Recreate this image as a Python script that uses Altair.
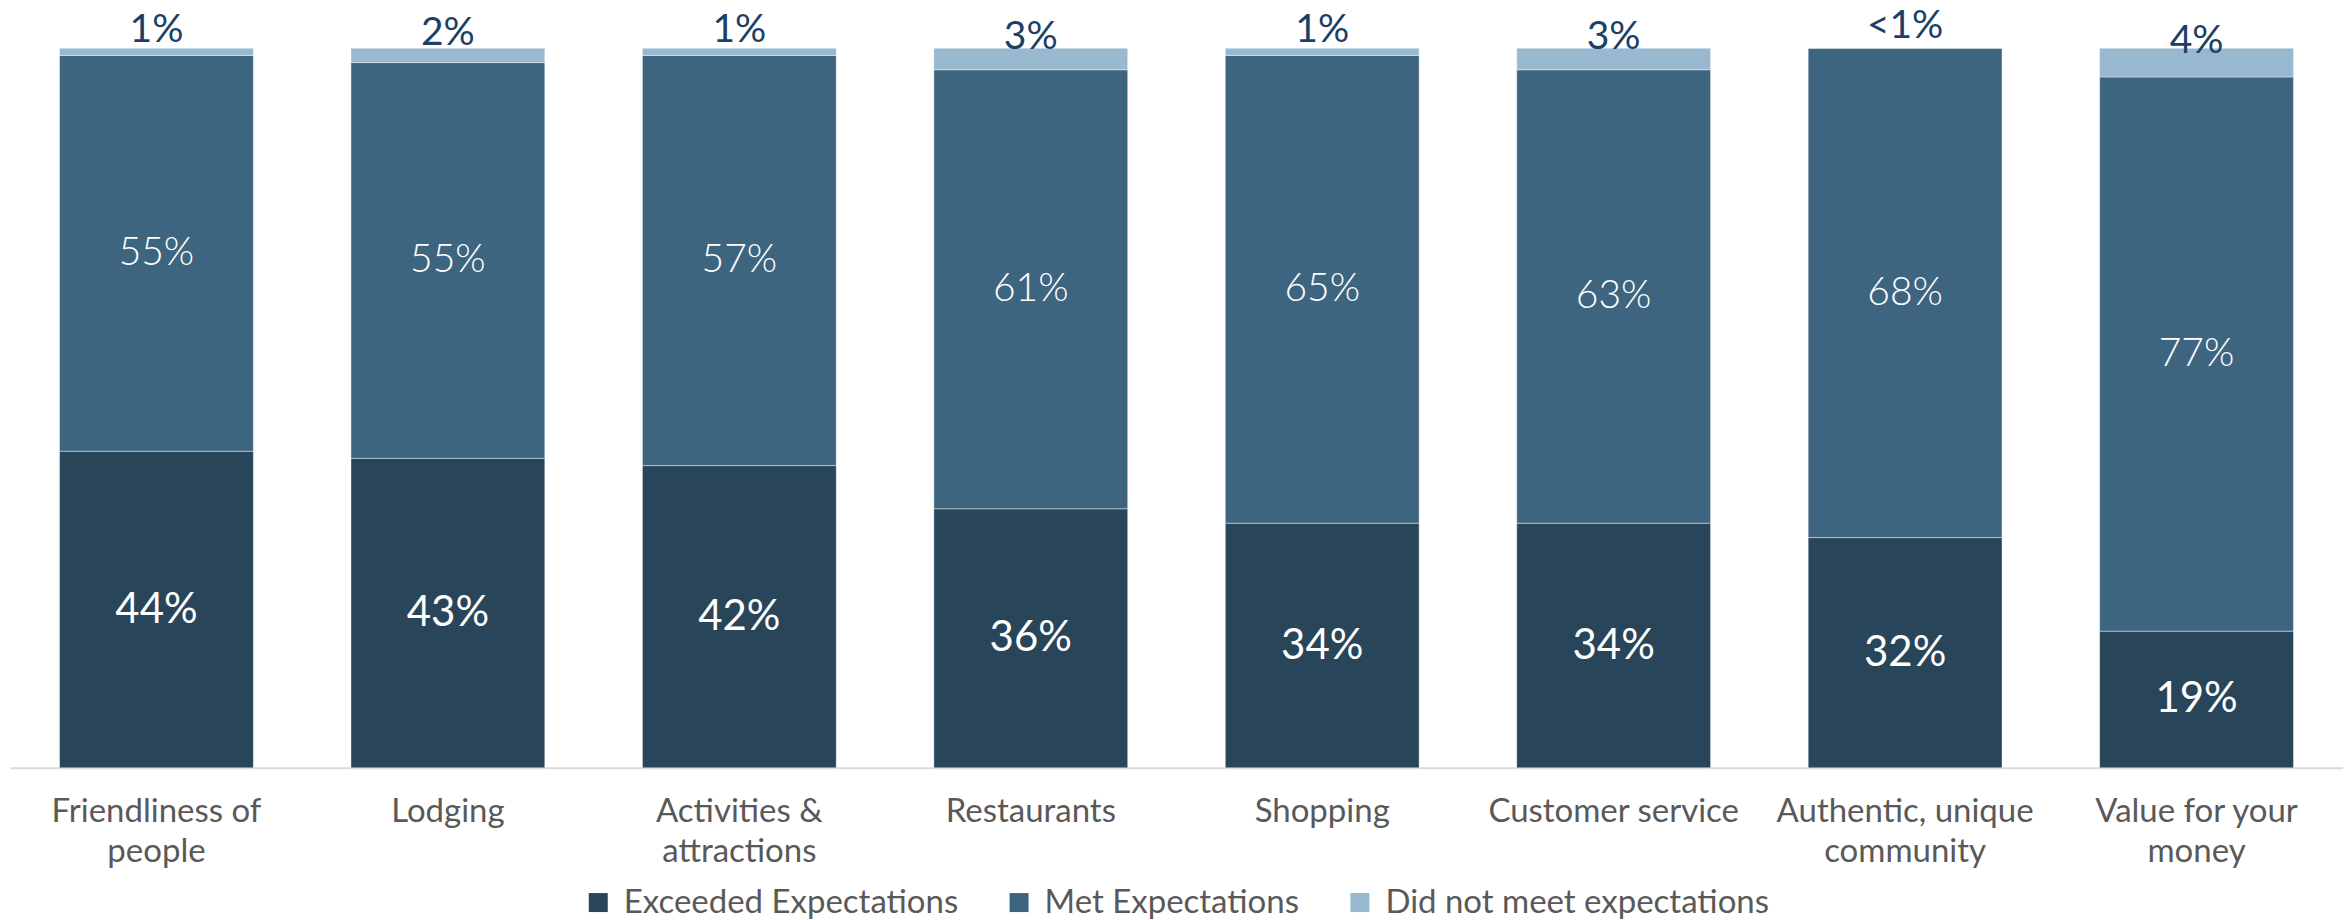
import altair as alt
import pandas as pd

categories = [
    "Friendliness of\npeople",
    "Lodging",
    "Activities &\nattractions",
    "Restaurants",
    "Shopping",
    "Customer service",
    "Authentic, unique\ncommunity",
    "Value for your\nmoney",
]
series = ["Exceeded Expectations", "Met Expectations", "Did not meet expectations"]
exceeded = [44, 43, 42, 36, 34, 34, 32, 19]
met = [55, 55, 57, 61, 65, 63, 68, 77]
did_not = [1, 2, 1, 3, 1, 3, 0, 4]
did_not_labels = ["1%", "2%", "1%", "3%", "1%", "3%", "<1%", "4%"]
colors = ["#294559", "#3e6580", "#97b8cf"]

rows = []
for i, c in enumerate(categories):
    for j, (s, vals) in enumerate(zip(series, [exceeded, met, did_not])):
        v = vals[i]
        lab = f"{v}%" if j < 2 else did_not_labels[i]
        rows.append({"category": c, "series": s, "idx": j, "value": v, "label": lab})
df = pd.DataFrame(rows)

FONT = "Lato"
NARROW = "Liberation Sans Narrow, Lato"

base = alt.Chart(df).transform_stack(
    stack="value", groupby=["category"], as_=["y0", "y1"], sort=[alt.SortField("idx", "ascending")]
).transform_calculate(mid="(datum.y0 + datum.y1) / 2")

x_enc = alt.X(
    "category:N",
    sort=categories,
    title=None,
    scale=alt.Scale(paddingInner=0.335, paddingOuter=0.17),
    axis=alt.Axis(
        labelAngle=0,
        labelExpr="split(datum.label, '\\n')",
        labelFont=FONT,
        labelFontSize=33,
        labelColor="#595959",
        labelLineHeight=40,
        labelPadding=28,
        ticks=False,
        domainColor="#d9d9d9",
        domainWidth=2,
        labelLimit=400,
    ),
)
y_scale = alt.Scale(domain=[0, 100], nice=False, zero=True)

bars = base.mark_bar(stroke="white", strokeWidth=0.4).encode(
    x=x_enc,
    y=alt.Y("y0:Q", scale=y_scale, axis=None),
    y2="y1:Q",
    color=alt.Color(
        "series:N",
        sort=series,
        scale=alt.Scale(domain=series, range=colors),
        legend=alt.Legend(
            title=None,
            orient="none",
            direction="horizontal",
            legendX=572,
            legendY=838,
            symbolType="square",
            symbolSize=361,
            symbolStrokeWidth=0,
            symbolOpacity=1,
            labelFont=FONT,
            labelFontSize=33,
            labelColor="#595959",
            labelOffset=9,
            columnPadding=44,
            padding=0,
            labelLimit=500,
        ),
    ),
)

exc_text = base.transform_filter("datum.idx == 0").mark_text(
    font=FONT, fontSize=42, color="white"
).encode(x=alt.X("category:N", sort=categories), y=alt.Y("mid:Q", scale=y_scale), text="label:N")

met_text = base.transform_filter("datum.idx == 1").mark_text(
    font=FONT, fontSize=39, fontWeight=300, color="white"
).encode(x=alt.X("category:N", sort=categories), y=alt.Y("mid:Q", scale=y_scale), text="label:N")

top_text = base.transform_filter("datum.idx == 2").mark_text(
    font=NARROW, fontSize=39, color="#1b3f66", dy=-22
).encode(x=alt.X("category:N", sort=categories), y=alt.Y("mid:Q", scale=y_scale), text="label:N")

chart = (
    alt.layer(bars, exc_text, met_text, top_text)
    .properties(
        width=2334,
        height=720,
        autosize=alt.AutoSizeParams(type="none"),
        padding={"left": 2, "top": 40, "right": 0, "bottom": 152},
    )
    .configure_view(stroke=None)
)

chart.save("out.html", embed_options={"renderer": "svg", "actions": False})
